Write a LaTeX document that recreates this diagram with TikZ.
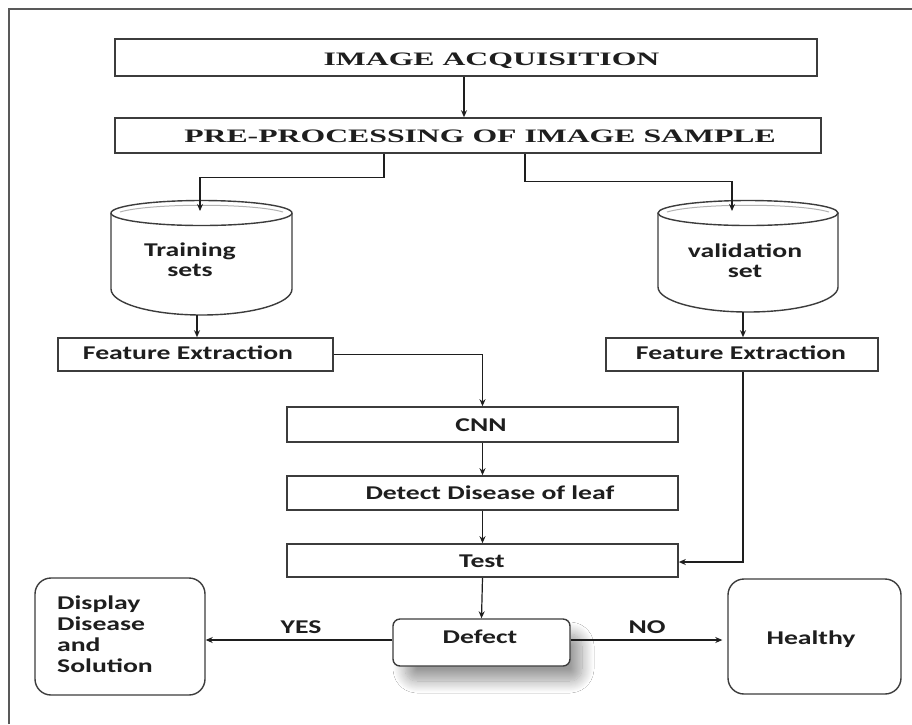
\documentclass[tikz,border=0pt]{standalone}
\usepackage{fontspec}
\newfontfamily\sansbox{Carlito}[FakeStretch=1.42]
\newfontfamily\serifbox{Liberation Serif}[FakeStretch=1.67]
\usetikzlibrary{arrows.meta,calc,shadows.blur}
\definecolor{ink}{HTML}{1E1E1E}
\definecolor{edge}{HTML}{3C3C3C}
\tikzset{
  rectbox/.style={draw=edge, line width=1.6pt, fill=white, inner sep=0pt},
  roundbox/.style={draw=edge, line width=1.4pt, fill=white, rounded corners=16pt, inner sep=0pt},
  stxt/.style={font=\sansbox\bfseries\fontsize{19.5}{21}\selectfont, text=ink, inner sep=0pt},
  rtxt/.style={font=\serifbox\bfseries\fontsize{19}{21}\selectfont, text=ink, inner sep=0pt},
  arr/.style={draw=ink, line width=1.2pt, -{Stealth[length=7pt,width=6pt]}},
  cyl/.style={draw=edge, line width=1.4pt},
}
\begin{document}
\begin{tikzpicture}[x=1pt,y=-1pt]
\useasboundingbox (0,0) rectangle (912,724);
\fill[white] (0,0) rectangle (912,724);
% frame
\draw[black!65, line width=2pt] (9,724) -- (9,9) -- (912,9);

% top boxes
\node[rectbox, minimum width=702pt, minimum height=37pt] (acq) at (466,57.5) {};
\node[rtxt, anchor=base] (acqt) at (491.5,65) {IMAGE ACQUISITION};
\node[rectbox, minimum width=706pt, minimum height=35pt] (pre) at (468,135.5) {};
\node[rtxt, anchor=base] (pret) at (480,142) {PRE-PROCESSING OF IMAGE SAMPLE};

% training cylinder
\draw[cyl, fill=white] (111,213) -- (111,289)
  .. controls (111,303.4) and (151.5,315) .. (201.5,315)
  .. controls (251.5,315) and (292,303.4) .. (292,289) -- (292,213);
\draw[cyl, fill=white] (201.5,213) ellipse [x radius=90.5pt, y radius=12.5pt];
\draw[black!30, line width=1pt] (120,212) .. controls (150,203) and (253,203) .. (283,212);
\coordinate (trtop) at (200,211);
\coordinate (trbot) at (197,315);
\node[stxt, anchor=base] (trt1) at (190,256.5) {Training};
\node[stxt, anchor=base] (trt2) at (190,276) {sets};

% validation cylinder
\draw[cyl, fill=white] (658,213) -- (658,287)
  .. controls (658,300.8) and (697.7,312) .. (748,312)
  .. controls (798.3,312) and (838,300.8) .. (838,287) -- (838,213);
\draw[cyl, fill=white] (748,213) ellipse [x radius=90pt, y radius=12.5pt];
\draw[black!30, line width=1pt] (667,212) .. controls (697,203) and (799,203) .. (829,212);
\coordinate (vatop) at (732,211);
\coordinate (vabot) at (743,312);
\node[stxt, anchor=base] (vat1) at (745,257) {validation};
\node[stxt, anchor=base] (vat2) at (745,277) {set};

% feature extraction
\node[rectbox, minimum width=275pt, minimum height=33pt] (fe1) at (195.5,354.5) {};
\node[stxt, anchor=base] (fe1t) at (188,359) {Feature Extraction};
\node[rectbox, minimum width=272pt, minimum height=33pt] (fe2) at (742,354.5) {};
\node[stxt, anchor=base] (fe2t) at (741,359) {Feature Extraction};

% middle column
\node[rectbox, minimum width=391pt, minimum height=35pt] (cnn) at (482.5,424.5) {};
\node[stxt, anchor=base] (cnnt) at (481,431.5) {CNN};
\node[rectbox, minimum width=391pt, minimum height=34pt] (det) at (482.5,493) {};
\node[stxt, anchor=base] (dett) at (490,499) {Detect Disease of leaf};
\node[rectbox, minimum width=391pt, minimum height=33pt] (test) at (482.5,560.5) {};
\node[stxt, anchor=base] (testt) at (482,567.5) {Test};

% bottom row
\node[roundbox, rounded corners=7pt, minimum width=177pt, minimum height=47pt,
  blur shadow={shadow xshift=12pt, shadow yshift=-15pt, shadow blur radius=12pt, shadow blur steps=14, shadow blur extra rounding=12pt, shadow opacity=40}]
  (defect) at (481.5,642.5) {};
\node[stxt, anchor=base] (defectt) at (480,643) {Defect};
\node[roundbox, minimum width=170pt, minimum height=117pt] (disp) at (120,636.5) {};
\node[stxt, anchor=north west, align=left] (dispt) at (57,595.5) {Display\\Disease\\and\\Solution};
\node[roundbox, minimum width=173pt, minimum height=115pt] (healthy) at (814.5,636.5) {};
\node[stxt, anchor=base] (healthyt) at (811,644) {Healthy};
\node[stxt, anchor=base] (yes) at (301,633) {YES};
\node[stxt, anchor=base] (no) at (647,633) {NO};

% connectors
\draw[arr] ([xshift=-2pt]acq.south) -- ([xshift=-4pt]pre.north);
\draw[arr] ([xshift=-84pt]pre.south) -- ++(0,24) -| (trtop);
\draw[arr] ([xshift=57pt]pre.south) -- ++(0,28) -| (vatop);
\draw[arr] (trbot) -- (trbot |- fe1.north);
\draw[arr] (vabot) -- (vabot |- fe2.north);
\draw[arr] (fe1.east) -| (cnn.north);
\draw[arr] (cnn.south) -- (det.north);
\draw[arr] (det.south) -- (test.north);
\draw[arr] ([xshift=1pt]fe2.south) |- ([yshift=-1.5pt]test.east);
\draw[arr] (test.south) -- (defect.north);
\draw[arr] ([yshift=2.5pt]defect.west) -- ([yshift=2.5pt]defect.west -| disp.east);
\draw[arr, shorten >=5pt] ([yshift=2.5pt]defect.east) -- ([yshift=2.5pt]defect.east -| healthy.west);
\end{tikzpicture}
\end{document}
